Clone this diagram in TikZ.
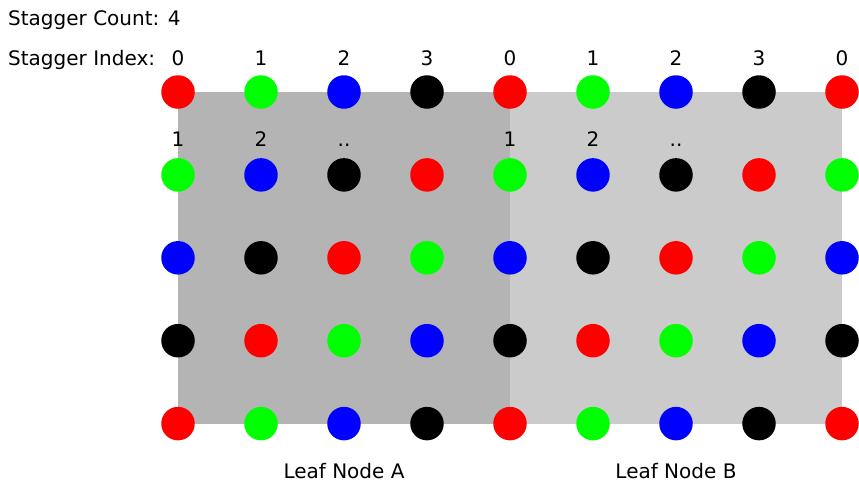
\documentclass[tikz,border=0pt]{standalone}
\usepackage{fontspec}
\setmainfont{DejaVu Sans}
\definecolor{leafA}{RGB}{180,180,180}
\definecolor{leafB}{RGB}{203,203,203}
\definecolor{cR}{RGB}{255,0,0}
\definecolor{cG}{RGB}{0,255,0}
\definecolor{cB}{RGB}{0,0,255}
\definecolor{cK}{RGB}{0,0,0}
\begin{document}
\begin{tikzpicture}[x=1pt,y=-1pt,
  dot/.style={circle,inner sep=0pt,minimum size=33.5pt,draw=none},
  lbl/.style={font=\fontsize{20}{24}\selectfont,inner sep=0pt,anchor=base},
  leaf/.style={draw=none,inner sep=0pt}]
\useasboundingbox (0,0) rectangle (859,496);
\fill[white] (0,0) rectangle (859,496);
% leaf regions
\node[leaf,fill=leafA,minimum width=332pt,minimum height=331.5pt,anchor=north west] (leafa) at (178,92) {};
\node[leaf,fill=leafB,minimum width=332pt,minimum height=331.5pt,anchor=north west] (leafb) at (510,92) {};
% dots
\foreach \r in {0,...,4}{
  \foreach \c in {0,...,8}{
    \pgfmathtruncatemacro{\k}{mod(\c+\r,4)}
    \ifcase\k \def\col{cR}\or \def\col{cG}\or \def\col{cB}\or \def\col{cK}\fi
    \node[dot,fill=\col] (d-\r-\c) at (178+83*\c,92+82.9*\r) {};
  }
}
% texts
\node[lbl,anchor=base west] (count) at (8,25) {Stagger Count: 4};
\node[lbl,anchor=base west] (index) at (8,65) {Stagger Index:};
\foreach \c/\t in {0/0,1/1,2/2,3/3,4/0,5/1,6/2,7/3,8/0}{
  \node[lbl] (i-\c) at (178+83*\c,65) {\t};
}
\foreach \c/\t in {0/1,1/2,2/..,4/1,5/2,6/..}{
  \node[lbl] (s-\c) at (178+83*\c,146) {\t};
}
\node[lbl] (na) at (344,478) {Leaf Node A};
\node[lbl] (nb) at (676,478) {Leaf Node B};
\end{tikzpicture}
\end{document}
